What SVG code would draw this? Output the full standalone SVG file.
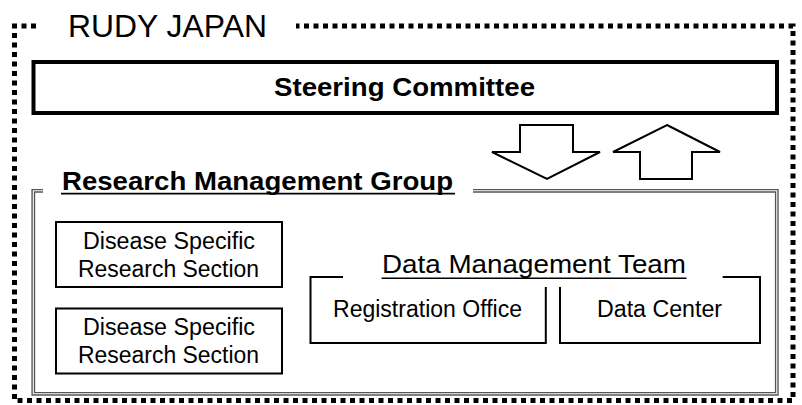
<svg xmlns="http://www.w3.org/2000/svg" width="802" height="405" viewBox="0 0 802 405">
<style>
text{font-family:"Liberation Sans",Arial,sans-serif;fill:#000}
.b{font-weight:bold}
.box{fill:none;stroke:#000;stroke-width:2}
.arrow{fill:#fff;stroke:#000;stroke-width:2;stroke-linejoin:miter}
.ul{stroke:#000;stroke-width:1.6}
</style>
<rect width="802" height="405" fill="#fff"/>
<g id="rudy-japan">
<path d="M36 26 H14.5 V400.5 H793 V26 H296" fill="none" stroke="#000" stroke-width="5" stroke-dasharray="5 4.5"/>
<text x="68" y="37" font-size="30.5" textLength="199" lengthAdjust="spacingAndGlyphs">RUDY JAPAN</text>
</g>
<g id="steering-committee">
<rect x="33.5" y="62" width="743.5" height="51" fill="#fff" stroke="#000" stroke-width="4"/>
<text class="b" x="274" y="96" font-size="26" textLength="261" lengthAdjust="spacingAndGlyphs">Steering Committee</text>
</g>
<g id="connectors">
<polygon class="arrow" points="520,125 573,125 573,152 600,152 547,179 492,152 520,152"/>
<polygon class="arrow" points="667,125 720,152 692,152 692,179 640,179 640,152 613,152"/>
</g>
<g id="research-management-group">
<path d="M43 190.8 H33.3 V393.8 H776.8 V190.8 H473" fill="none" stroke="#555" stroke-width="3.8"/>
<path d="M43 190.8 H33.3 V393.8 H776.8 V190.8 H473" fill="none" stroke="#fff" stroke-width="1.1"/>
<text class="b" x="62" y="190" font-size="26.5" textLength="391" lengthAdjust="spacingAndGlyphs">Research Management Group</text>
<line class="ul" x1="61" y1="193.6" x2="455" y2="193.6"/>
</g>
<g id="disease-section-1">
<rect class="box" x="56" y="222" width="226" height="65"/>
<text x="169" y="249" font-size="23" text-anchor="middle" textLength="172" lengthAdjust="spacingAndGlyphs">Disease Specific</text>
<text x="168.5" y="277" font-size="23" text-anchor="middle" textLength="181" lengthAdjust="spacingAndGlyphs">Research Section</text>
</g>
<g id="disease-section-2">
<rect class="box" x="56" y="308.5" width="226" height="65"/>
<text x="169" y="335" font-size="23" text-anchor="middle" textLength="172" lengthAdjust="spacingAndGlyphs">Disease Specific</text>
<text x="168.5" y="363" font-size="23" text-anchor="middle" textLength="181" lengthAdjust="spacingAndGlyphs">Research Section</text>
</g>
<g id="data-management-team">
<text x="382" y="273" font-size="26" textLength="304" lengthAdjust="spacingAndGlyphs">Data Management Team</text>
<line class="ul" x1="381.5" y1="278.3" x2="686.5" y2="278.3"/>
</g>
<g id="registration-office">
<path class="box" d="M343 277 H310.5 V343 H545.8 V287"/>
<text x="333" y="317" font-size="23" textLength="189" lengthAdjust="spacingAndGlyphs">Registration Office</text>
</g>
<g id="data-center">
<path class="box" d="M560 287 V343 H760 V277 H722.7"/>
<text x="597" y="317" font-size="23" textLength="125" lengthAdjust="spacingAndGlyphs">Data Center</text>
</g>
</svg>
